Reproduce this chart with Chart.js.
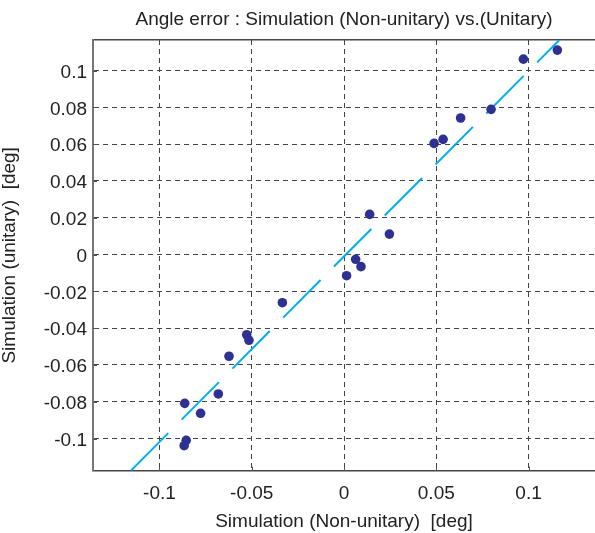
<!DOCTYPE html>
<html>
<head>
<meta charset="utf-8">
<script src="https://cdn.jsdelivr.net/npm/chart.js@4"></script>
<style>
html,body{margin:0;padding:0;background:#fff;}
#wrap{width:595px;height:533px;position:relative;}
</style>
</head>
<body>
<div id="wrap"><canvas id="c" width="595" height="533"></canvas></div>
<script>
const titleText = "Angle error : Simulation (Non-unitary) vs.(Unitary)";
const xTitle = "Simulation (Non-unitary)  [deg]";
const yTitle = "Simulation (unitary)  [deg]";

const nonUnitary = [0.0972, 0.1156, 0.0797, 0.0632, 0.0537, 0.0488, 0.0139, 0.0246, 0.0063, 0.0092,
                    0.0014, -0.0334, -0.0527, -0.0515, -0.0623, -0.0681, -0.0863, -0.0777, -0.0855, -0.0866];
const unitary    = [0.1062, 0.1111, 0.0789, 0.0742, 0.0626, 0.0604, 0.0218, 0.0111, -0.0026, -0.0066,
                    -0.0115, -0.0262, -0.0436, -0.0466, -0.0553, -0.0758, -0.0809, -0.0863, -0.1010, -0.1039];

const fitX = [-0.1155, 0.1167];
const fitY = [-0.1175, 0.1166];

const xTicks = [-0.1, -0.05, 0, 0.05, 0.1];
const xTickLabels = ["-0.1", "-0.05", "0", "0.05", "0.1"];
const yTicks = [-0.1, -0.08, -0.06, -0.04, -0.02, 0, 0.02, 0.04, 0.06, 0.08, 0.1];
const yTickLabels = ["-0.1", "-0.08", "-0.06", "-0.04", "-0.02", "0", "0.02", "0.04", "0.06", "0.08", "0.1"];

const FONT = "'Liberation Sans', Arial, sans-serif";

const scatterData = nonUnitary.map((v, i) => ({x: v, y: unitary[i]}));
const fitData = fitX.map((v, i) => ({x: v, y: fitY[i]}));

const innerTicks = {
  id: 'innerTicks',
  afterDraw(chart) {
    const ctx = chart.ctx, a = chart.chartArea;
    const xs = chart.scales.x, ys = chart.scales.y;
    ctx.save();
    ctx.strokeStyle = '#555';
    ctx.lineWidth = 1;
    ctx.beginPath();
    xTicks.forEach(v => {
      const px = Math.round(xs.getPixelForValue(v)) + 0.5;
      ctx.moveTo(px, a.bottom); ctx.lineTo(px, a.bottom - 4);
    });
    yTicks.forEach(v => {
      const py = Math.round(ys.getPixelForValue(v)) + 0.5;
      ctx.moveTo(a.left, py); ctx.lineTo(a.left + 4, py);
    });
    ctx.stroke();
    ctx.restore();
  }
};

new Chart(document.getElementById('c'), {
  type: 'scatter',
  data: {
    datasets: [
      {
        type: 'line',
        data: fitData,
        borderColor: '#00AEEF',
        borderWidth: 2,
        borderDash: [53, 19],
        pointRadius: 0,
        fill: false,
        tension: 0,
        order: 2
      },
      {
        data: scatterData,
        backgroundColor: '#2E3192',
        borderColor: '#2E3192',
        borderWidth: 0,
        pointRadius: 4.8,
        order: 1
      }
    ]
  },
  options: {
    responsive: false,
    animation: false,
    layout: {autoPadding: false, padding: {left: 0, right: 0, top: 0, bottom: 0}},
    plugins: {
      legend: {display: false},
      tooltip: {enabled: false},
      title: {
        display: true,
        fullSize: false,
        text: titleText,
        color: '#222',
        font: {family: FONT, size: 19, weight: 'normal', lineHeight: 1.2},
        padding: {top: 8.6, bottom: 8.6}
      }
    },
    scales: {
      x: {
        type: 'linear',
        min: -0.136, max: 0.136,
        afterFit(s) { s.height = 62.3; },
        afterBuildTicks(s) { s.ticks = xTicks.map(v => ({value: v})); },
        ticks: {
          color: '#222',
          font: {family: FONT, size: 19, lineHeight: 1.2},
          padding: 12,
          maxRotation: 0,
          callback: (v) => xTickLabels[xTicks.indexOf(v)]
        },
        grid: {color: '#444', lineWidth: 1, drawTicks: false},
        border: {display: true, color: '#444', width: 1.5, dash: [5, 4]},
        title: {
          display: true, text: xTitle, color: '#222',
          font: {family: FONT, size: 19, lineHeight: 1.2}, padding: {top: 0, bottom: 0}
        }
      },
      x2: {
        type: 'linear', position: 'top',
        min: -0.136, max: 0.136,
        afterFit(s) { s.height = 0; },
        ticks: {display: false},
        grid: {display: false, drawTicks: false},
        border: {display: true, color: '#444', width: 1.5}
      },
      y: {
        type: 'linear',
        min: -0.1175, max: 0.1166,
        afterFit(s) { s.width = 93; },
        afterBuildTicks(s) { s.ticks = yTicks.map(v => ({value: v})); },
        ticks: {
          color: '#222',
          font: {family: FONT, size: 19, lineHeight: 1.2},
          padding: 6,
          labelOffset: 2,
          callback: (v) => yTickLabels[yTicks.indexOf(v)]
        },
        grid: {color: '#444', lineWidth: 1, drawTicks: false},
        border: {display: true, color: '#777', width: 2, dash: [5, 4]},
        title: {
          display: true, text: yTitle, color: '#222',
          font: {family: FONT, size: 19, lineHeight: 1}, padding: {top: 0, bottom: 0}
        }
      }
    }
  },
  plugins: [innerTicks]
});
</script>
</body>
</html>
